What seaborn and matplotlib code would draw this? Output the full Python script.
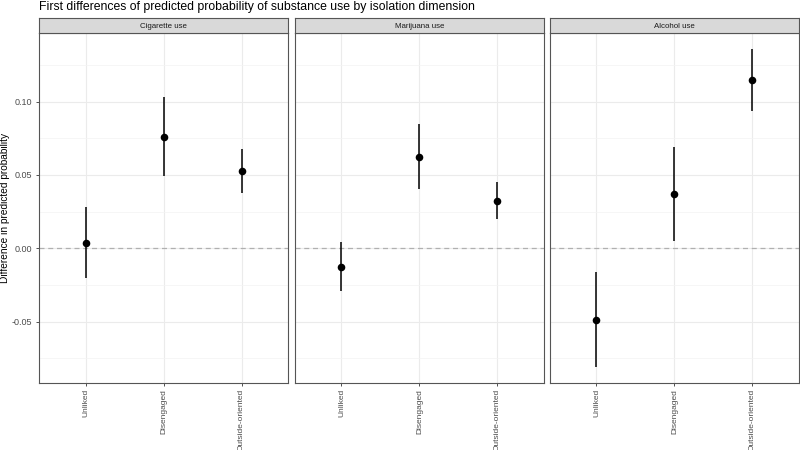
import matplotlib
matplotlib.use("Agg")
import matplotlib.pyplot as plt
import seaborn as sns
import pandas as pd

# datos
dimensiones = ["Unliked", "Disengaged", "Outside-oriented"]
sustancias = ["Cigarette use", "Marijuana use", "Alcohol use"]

cig_est = [0.0038, 0.0761, 0.0527]
cig_low = [-0.0205, 0.0493, 0.0375]
cig_up = [0.0284, 0.1034, 0.0677]

mar_est = [-0.0125, 0.0624, 0.0325]
mar_low = [-0.0289, 0.0404, 0.0198]
mar_up = [0.0045, 0.0847, 0.0454]

alc_est = [-0.0489, 0.0372, 0.1147]
alc_low = [-0.0808, 0.0052, 0.0938]
alc_up = [-0.0161, 0.0689, 0.1357]

df = pd.DataFrame({
    "sustancia": [s for s in sustancias for _ in dimensiones],
    "dimension": dimensiones * 3,
    "est": cig_est + mar_est + alc_est,
    "low": cig_low + mar_low + alc_low,
    "up": cig_up + mar_up + alc_up,
})

sns.set_theme(style="white")
plt.rcParams["font.family"] = ["Liberation Sans", "DejaVu Sans"]

fig = plt.figure(figsize=(8, 4.5), dpi=100)
lefts = [38.8, 294.7, 549.7]
ancho = 249.5
y0, y1 = 382.7, 33.3
for i, s in enumerate(sustancias):
    ax = fig.add_axes([lefts[i] / 800, 1 - y0 / 450, ancho / 800, (y0 - y1) / 450])
    sub = df[df["sustancia"] == s].reset_index(drop=True)
    sub["x"] = range(len(sub))
    ax.vlines(sub["x"], sub["low"], sub["up"], color="black", lw=1.1, zorder=3)
    sns.scatterplot(data=sub, x="x", y="est", ax=ax, color="black", s=30,
                    edgecolor="black", linewidth=0, zorder=4, legend=False)
    ax.axhline(0, color="#b0b0b0", ls=(0, (4, 3)), lw=0.9, zorder=2)
    ax.set_xlim(-0.6, 2.6)
    ax.set_ylim(-0.0917, 0.1466)
    ax.set_xticks(range(3))
    ax.set_xticklabels(dimensiones, rotation=90, fontsize=6.0, color="#4d4d4d")
    ax.set_yticks([-0.05, 0.0, 0.05, 0.10])
    ax.set_yticks([-0.075, -0.025, 0.025, 0.075, 0.125], minor=True)
    ax.grid(True, which="major", color="#ebebeb", lw=0.8)
    ax.grid(True, which="minor", color="#f3f3f3", lw=0.5)
    ax.set_axisbelow(True)
    ax.tick_params(axis="both", which="major", length=2.5, color="#333333",
                   width=0.6, pad=2, bottom=True, left=(i == 0))
    ax.tick_params(axis="both", which="minor", length=0)
    if i == 0:
        ax.set_yticklabels(["-0.05", "0.00", "0.05", "0.10"], fontsize=6.5, color="#4d4d4d")
        ax.set_ylabel("Difference in predicted probability", fontsize=7.3, color="black")
        ax.yaxis.set_label_coords(-28.5 / ancho, 0.5)
    else:
        ax.set_yticklabels([])
        ax.set_ylabel("")
    ax.set_xlabel("")
    for sp in ax.spines.values():
        sp.set_color("#555555")
        sp.set_linewidth(0.8)
    # franja del panel
    strip = fig.add_axes([lefts[i] / 800, 1 - y1 / 450, ancho / 800, 15 / 450])
    strip.set_facecolor("#d9d9d9")
    strip.set_xticks([])
    strip.set_yticks([])
    for sp in strip.spines.values():
        sp.set_color("#555555")
        sp.set_linewidth(0.8)
    strip.text(0.5, 0.45, s, ha="center", va="center", fontsize=5.7,
               color="#1a1a1a", transform=strip.transAxes)

fig.text(39 / 800, 1 - 7 / 450, "First differences of predicted probability of substance use by isolation dimension",
         ha="left", va="center", fontsize=8.85, color="black")

fig.savefig("out.png", dpi=100)
